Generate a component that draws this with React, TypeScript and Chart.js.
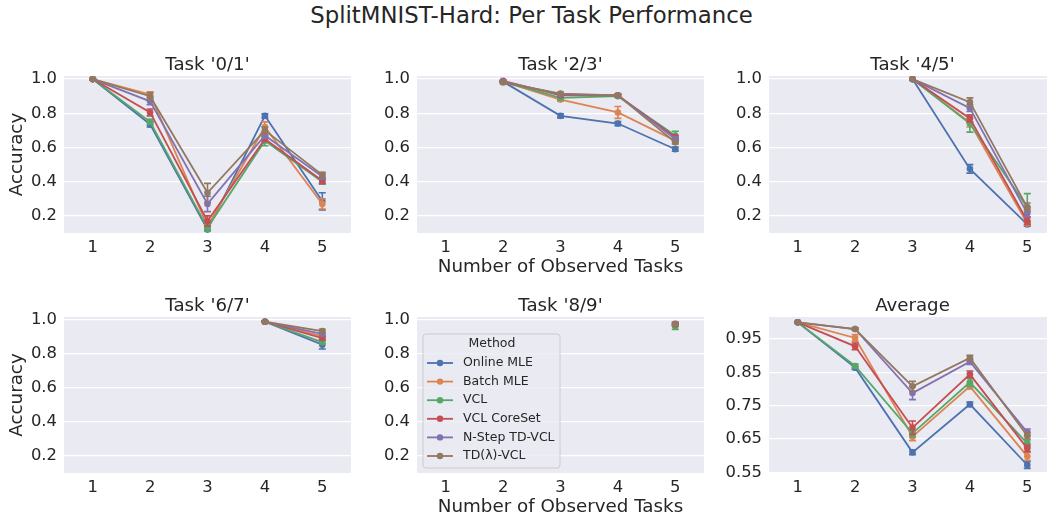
import React, { useEffect, useRef } from "react";
import { Chart, registerables } from "chart.js";

Chart.register(...registerables);
Chart.defaults.font.family = "'DejaVu Sans', sans-serif";
Chart.defaults.color = "#262626";

const METHODS = ["Online MLE", "Batch MLE", "VCL", "VCL CoreSet", "N-Step TD-VCL", "TD(λ)-VCL"];
const COLORS = ["#4C72B0", "#DD8452", "#55A868", "#C44E52", "#8172B3", "#937860"];
const TASKS = [1, 2, 3, 4, 5];
const Y_TICKS_TASK = [0.2, 0.4, 0.6, 0.8, 1.0];
const Y_TICKS_AVG = [0.55, 0.65, 0.75, 0.85, 0.95];

const N = null;

// Task '0/1' (rows = methods, columns = number of observed tasks)
const T01_MEAN = [
  [1.0, 0.735, 0.12, 0.785, 0.285],
  [1.0, 0.91, 0.14, 0.72, 0.27],
  [1.0, 0.75, 0.13, 0.64, 0.40],
  [1.0, 0.805, 0.17, 0.65, 0.405],
  [1.0, 0.87, 0.27, 0.67, 0.43],
  [1.0, 0.90, 0.335, 0.70, 0.44],
];
const T01_ERR = [
  [0.002, 0.015, 0.01, 0.012, 0.05],
  [0.002, 0.015, 0.012, 0.03, 0.03],
  [0.002, 0.015, 0.02, 0.03, 0.015],
  [0.002, 0.02, 0.03, 0.015, 0.015],
  [0.002, 0.02, 0.045, 0.015, 0.015],
  [0.002, 0.02, 0.055, 0.02, 0.015],
];

// Task '2/3'
const T23_MEAN = [
  [N, 0.985, 0.785, 0.74, 0.59],
  [N, 0.985, 0.88, 0.805, 0.64],
  [N, 0.985, 0.89, 0.90, 0.67],
  [N, 0.99, 0.905, 0.905, 0.66],
  [N, 0.985, 0.91, 0.905, 0.65],
  [N, 0.98, 0.915, 0.905, 0.63],
];
const T23_ERR = [
  [N, 0.005, 0.012, 0.012, 0.012],
  [N, 0.005, 0.01, 0.035, 0.01],
  [N, 0.005, 0.01, 0.008, 0.025],
  [N, 0.005, 0.008, 0.008, 0.01],
  [N, 0.005, 0.008, 0.008, 0.01],
  [N, 0.005, 0.008, 0.008, 0.01],
];

// Task '4/5'
const T45_MEAN = [
  [N, N, 1.0, 0.475, 0.15],
  [N, N, 1.0, 0.745, 0.155],
  [N, N, 1.0, 0.74, 0.25],
  [N, N, 1.0, 0.77, 0.17],
  [N, N, 1.0, 0.83, 0.215],
  [N, N, 1.0, 0.865, 0.25],
];
const T45_ERR = [
  [N, N, 0.002, 0.025, 0.01],
  [N, N, 0.002, 0.025, 0.01],
  [N, N, 0.002, 0.05, 0.08],
  [N, N, 0.002, 0.02, 0.02],
  [N, N, 0.002, 0.02, 0.02],
  [N, N, 0.002, 0.025, 0.025],
];

// Task '6/7'
const T67_MEAN = [
  [N, N, N, 0.99, 0.855],
  [N, N, N, 0.99, 0.905],
  [N, N, N, 0.99, 0.87],
  [N, N, N, 0.99, 0.894],
  [N, N, N, 0.99, 0.918],
  [N, N, N, 0.99, 0.935],
];
const T67_ERR = [
  [N, N, N, 0.003, 0.025],
  [N, N, N, 0.003, 0.01],
  [N, N, N, 0.003, 0.01],
  [N, N, N, 0.003, 0.01],
  [N, N, N, 0.003, 0.01],
  [N, N, N, 0.003, 0.01],
];

// Task '8/9'
const T89_MEAN = [
  [N, N, N, N, 0.975],
  [N, N, N, N, 0.98],
  [N, N, N, N, 0.965],
  [N, N, N, N, 0.975],
  [N, N, N, N, 0.975],
  [N, N, N, N, 0.97],
];
const T89_ERR = [
  [N, N, N, N, 0.005],
  [N, N, N, N, 0.01],
  [N, N, N, N, 0.02],
  [N, N, N, N, 0.008],
  [N, N, N, N, 0.005],
  [N, N, N, N, 0.005],
];

// Average
const AVG_MEAN = [
  [1.0, 0.864, 0.61, 0.754, 0.572],
  [1.0, 0.953, 0.657, 0.808, 0.598],
  [1.0, 0.869, 0.667, 0.82, 0.637],
  [1.0, 0.928, 0.684, 0.844, 0.622],
  [1.0, 0.98, 0.788, 0.882, 0.67],
  [1.0, 0.98, 0.808, 0.893, 0.66],
];
const AVG_ERR = [
  [0.001, 0.005, 0.007, 0.007, 0.01],
  [0.001, 0.01, 0.012, 0.008, 0.012],
  [0.001, 0.006, 0.01, 0.012, 0.01],
  [0.001, 0.01, 0.02, 0.01, 0.01],
  [0.001, 0.003, 0.02, 0.008, 0.01],
  [0.001, 0.003, 0.015, 0.008, 0.01],
];

const TEXT = "#262626";
const BG = "#EAEAF2";

const COL_LEFT = [64, 417, 769];
const ROW_TOP = [76, 317];
const PLOT_W = 287;
const PLOT_H = [157, 156];
const Y_AXIS_W = 64;
const X_AXIS_H = 50;
const PAD_TOP = 30;
const PAD_RIGHT = 4;

const bgPlugin = {
  id: "plotBg",
  beforeDraw(chart: any) {
    const { ctx, chartArea: a } = chart;
    ctx.save();
    ctx.fillStyle = BG;
    ctx.fillRect(a.left, a.top, a.right - a.left, a.bottom - a.top);
    ctx.restore();
  },
};

const titlePlugin = {
  id: "panelTitle",
  afterDraw(chart: any, _args: any, opts: any) {
    if (!opts || !opts.text) return;
    const { ctx, chartArea: a } = chart;
    ctx.save();
    ctx.font = "18.2px 'DejaVu Sans'";
    ctx.fillStyle = TEXT;
    ctx.textAlign = "center";
    ctx.textBaseline = "middle";
    ctx.fillText(opts.text, (a.left + a.right) / 2, a.top - 11);
    ctx.restore();
  },
};

const errPlugin = {
  id: "errBars",
  afterDatasetDraw(chart: any, args: any) {
    const ds = chart.data.datasets[args.index];
    if (!ds.errs) return;
    const { ctx, chartArea: a } = chart;
    const xs = chart.scales.x;
    const ys = chart.scales.y;
    ctx.save();
    ctx.beginPath();
    ctx.rect(a.left, a.top, a.right - a.left, a.bottom - a.top);
    ctx.clip();
    ctx.strokeStyle = ds.borderColor;
    ctx.lineWidth = 1.6;
    ds.data.forEach((p: any, j: number) => {
      const e = ds.errs[j];
      if (e == null) return;
      const px = xs.getPixelForValue(p.x);
      const y1 = ys.getPixelForValue(p.y - e);
      const y2 = ys.getPixelForValue(p.y + e);
      const cw = 3.5;
      ctx.beginPath();
      ctx.moveTo(px, y1);
      ctx.lineTo(px, y2);
      ctx.moveTo(px - cw, y1);
      ctx.lineTo(px + cw, y1);
      ctx.moveTo(px - cw, y2);
      ctx.lineTo(px + cw, y2);
      ctx.stroke();
    });
    ctx.restore();
  },
};

const legendPlugin = {
  id: "methodLegend",
  afterDraw(chart: any, _args: any, opts: any) {
    if (!opts || !opts.show) return;
    const { ctx, chartArea: a } = chart;
    const x = a.left + 6;
    const y = a.top + 17;
    const w = 137;
    const h = 134;
    const r = 3;
    ctx.save();
    ctx.beginPath();
    ctx.moveTo(x + r, y);
    ctx.lineTo(x + w - r, y);
    ctx.quadraticCurveTo(x + w, y, x + w, y + r);
    ctx.lineTo(x + w, y + h - r);
    ctx.quadraticCurveTo(x + w, y + h, x + w - r, y + h);
    ctx.lineTo(x + r, y + h);
    ctx.quadraticCurveTo(x, y + h, x, y + h - r);
    ctx.lineTo(x, y + r);
    ctx.quadraticCurveTo(x, y, x + r, y);
    ctx.closePath();
    ctx.fillStyle = "rgba(234,234,242,0.8)";
    ctx.fill();
    ctx.strokeStyle = "#cccccc";
    ctx.lineWidth = 1;
    ctx.stroke();

    ctx.fillStyle = TEXT;
    ctx.font = "12.5px 'DejaVu Sans'";
    ctx.textBaseline = "middle";
    ctx.textAlign = "center";
    ctx.fillText("Method", x + 69, a.top + 27);
    ctx.textAlign = "left";
    chart.data.datasets.forEach((ds: any, i: number) => {
      const ey = a.top + 46 + i * 18.6;
      ctx.strokeStyle = ds.borderColor;
      ctx.lineWidth = 1.8;
      ctx.beginPath();
      ctx.moveTo(a.left + 10, ey);
      ctx.lineTo(a.left + 36, ey);
      ctx.stroke();
      ctx.fillStyle = ds.borderColor;
      ctx.beginPath();
      ctx.arc(a.left + 23, ey, 3.2, 0, Math.PI * 2);
      ctx.fill();
      ctx.fillStyle = TEXT;
      ctx.fillText(ds.label, a.left + 46, ey);
    });
    ctx.restore();
  },
};

type PanelCfg = {
  title: string;
  mean: (number | null)[][];
  err: (number | null)[][];
  col: number;
  row: number;
  yMin: number;
  yMax: number;
  yTicks: number[];
  dec: number;
  yTitle: boolean;
  xTitle: boolean;
  legend: boolean;
};

const PANELS: PanelCfg[] = [
  { title: "Task '0/1'", mean: T01_MEAN, err: T01_ERR, col: 0, row: 0, yMin: 0.1, yMax: 1.018, yTicks: Y_TICKS_TASK, dec: 1, yTitle: true, xTitle: false, legend: false },
  { title: "Task '2/3'", mean: T23_MEAN, err: T23_ERR, col: 1, row: 0, yMin: 0.1, yMax: 1.018, yTicks: Y_TICKS_TASK, dec: 1, yTitle: false, xTitle: true, legend: false },
  { title: "Task '4/5'", mean: T45_MEAN, err: T45_ERR, col: 2, row: 0, yMin: 0.1, yMax: 1.018, yTicks: Y_TICKS_TASK, dec: 1, yTitle: false, xTitle: false, legend: false },
  { title: "Task '6/7'", mean: T67_MEAN, err: T67_ERR, col: 0, row: 1, yMin: 0.1, yMax: 1.018, yTicks: Y_TICKS_TASK, dec: 1, yTitle: true, xTitle: false, legend: false },
  { title: "Task '8/9'", mean: T89_MEAN, err: T89_ERR, col: 1, row: 1, yMin: 0.1, yMax: 1.018, yTicks: Y_TICKS_TASK, dec: 1, yTitle: false, xTitle: true, legend: true },
  { title: "Average", mean: AVG_MEAN, err: AVG_ERR, col: 2, row: 1, yMin: 0.548, yMax: 1.016, yTicks: Y_TICKS_AVG, dec: 2, yTitle: false, xTitle: false, legend: false },
];

function Panel({ cfg }: { cfg: PanelCfg }) {
  const ref = useRef<HTMLCanvasElement>(null);
  const w = Y_AXIS_W + PLOT_W + PAD_RIGHT;
  const h = PAD_TOP + PLOT_H[cfg.row] + X_AXIS_H;
  const left = COL_LEFT[cfg.col] - Y_AXIS_W;
  const top = ROW_TOP[cfg.row] - PAD_TOP;

  useEffect(() => {
    if (!ref.current) return;
    const datasets = METHODS.map((label, i) => {
      const pts: { x: number; y: number }[] = [];
      const errs: number[] = [];
      TASKS.forEach((t, j) => {
        const v = cfg.mean[i][j];
        if (v != null) {
          pts.push({ x: t, y: v });
          errs.push((cfg.err[i][j] ?? 0) as number);
        }
      });
      return {
        label,
        data: pts,
        errs,
        borderColor: COLORS[i],
        backgroundColor: COLORS[i],
        pointBackgroundColor: COLORS[i],
        pointBorderColor: COLORS[i],
        pointBorderWidth: 0,
        pointRadius: 3.3,
        borderWidth: 1.8,
        tension: 0,
        fill: false,
        order: METHODS.length - i,
      };
    });

    const chart = new Chart(ref.current, {
      type: "line",
      data: { datasets } as any,
      plugins: [bgPlugin, errPlugin, titlePlugin, legendPlugin],
      options: {
        animation: false,
        responsive: false,
        devicePixelRatio: 1,
        layout: { padding: { top: PAD_TOP, right: PAD_RIGHT, left: 0, bottom: 0 } },
        plugins: {
          legend: { display: false },
          tooltip: { enabled: false },
          panelTitle: { text: cfg.title },
          methodLegend: { show: cfg.legend },
        } as any,
        scales: {
          x: {
            type: "linear",
            min: 0.5,
            max: 5.5,
            afterBuildTicks: (s: any) => {
              s.ticks = TASKS.map((v) => ({ value: v }));
            },
            afterFit: (s: any) => {
              s.height = X_AXIS_H;
            },
            grid: { display: false, drawTicks: false },
            border: { display: false },
            ticks: {
              padding: 5.2,
              font: { size: 16.4 },
              color: TEXT,
              callback: (v: any) => String(v),
              maxRotation: 0,
            },
            title: {
              display: cfg.xTitle,
              text: "Number of Observed Tasks",
              font: { size: 18.3 },
              color: TEXT,
              padding: { top: 0, bottom: 5 },
            },
          },
          y: {
            type: "linear",
            min: cfg.yMin,
            max: cfg.yMax,
            afterBuildTicks: (s: any) => {
              s.ticks = cfg.yTicks.map((v) => ({ value: v }));
            },
            afterFit: (s: any) => {
              s.width = Y_AXIS_W;
            },
            grid: { color: "#ffffff", lineWidth: 1.3, drawTicks: false },
            border: { display: false },
            ticks: {
              padding: 7,
              font: { size: 16.4 },
              color: TEXT,
              callback: (v: any) => Number(v).toFixed(cfg.dec),
            },
            title: {
              display: cfg.yTitle,
              text: "Accuracy",
              font: { size: 18.3 },
              color: TEXT,
              padding: { top: 6, bottom: 0 },
            },
          },
        },
      } as any,
    });
    return () => chart.destroy();
  }, []);

  return (
    <canvas
      ref={ref}
      width={w}
      height={h}
      style={{ position: "absolute", left, top, width: w + "px", height: h + "px" }}
    />
  );
}

export default function App() {
  return (
    <div
      style={{
        position: "fixed",
        left: 0,
        top: 0,
        width: 1047,
        height: 518,
        overflow: "hidden",
        background: "#ffffff",
      }}
    >
      <div
        style={{
          position: "absolute",
          left: 0,
          top: 3,
          width: 1063,
          textAlign: "center",
          fontFamily: "'DejaVu Sans', sans-serif",
          fontSize: 22.8,
          lineHeight: "24px",
          color: TEXT,
        }}
      >
        SplitMNIST-Hard: Per Task Performance
      </div>
      {PANELS.map((p, i) => (
        <Panel key={i} cfg={p} />
      ))}
    </div>
  );
}
